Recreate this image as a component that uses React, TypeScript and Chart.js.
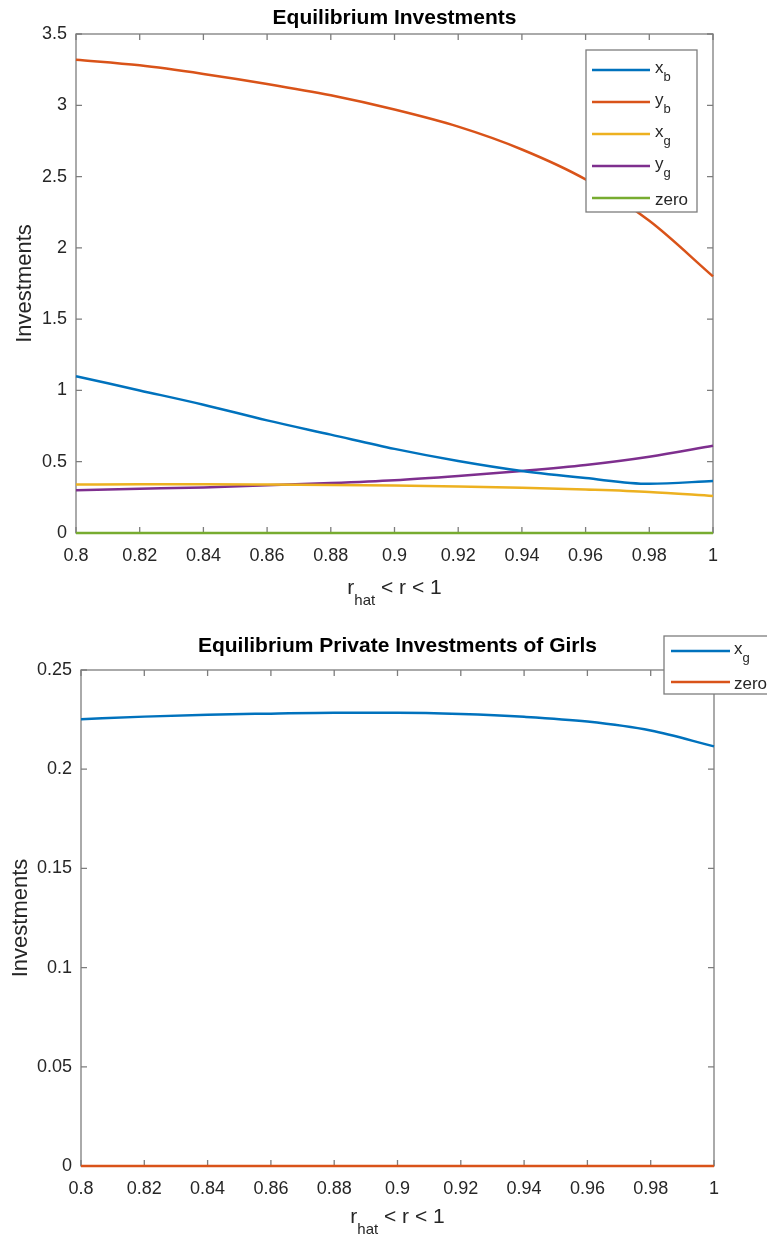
import React, { useEffect, useRef } from "react";
import { Chart, registerables } from "chart.js";

Chart.register(...registerables);

// ---------- data ----------
const R_VALUES = [0.8, 0.82, 0.84, 0.86, 0.88, 0.9, 0.92, 0.94, 0.96, 0.98, 1.0];
const X_TICKS = [0.8, 0.82, 0.84, 0.86, 0.88, 0.9, 0.92, 0.94, 0.96, 0.98, 1.0];
const TOP_Y_TICKS = [0, 0.5, 1, 1.5, 2, 2.5, 3, 3.5];
const BOTTOM_Y_TICKS = [0, 0.05, 0.1, 0.15, 0.2, 0.25];

const X_B = [1.1, 1.0, 0.9, 0.79, 0.69, 0.59, 0.505, 0.435, 0.385, 0.345, 0.365];
const Y_B = [3.32, 3.28, 3.22, 3.15, 3.07, 2.97, 2.85, 2.69, 2.48, 2.19, 1.8];
const X_G = [0.34, 0.342, 0.342, 0.34, 0.337, 0.333, 0.327, 0.318, 0.305, 0.288, 0.26];
const Y_G = [0.3, 0.31, 0.32, 0.335, 0.35, 0.37, 0.4, 0.435, 0.477, 0.535, 0.612];
const ZERO = [0, 0, 0, 0, 0, 0, 0, 0, 0, 0, 0];

const X_G_GIRLS = [0.2252, 0.2265, 0.2275, 0.228, 0.2284, 0.2284, 0.2278, 0.2264, 0.224, 0.2195, 0.2115];
const ZERO_GIRLS = [0, 0, 0, 0, 0, 0, 0, 0, 0, 0, 0];

const TOP_TITLE = "Equilibrium Investments";
const BOTTOM_TITLE = "Equilibrium Private Investments of Girls";
const Y_TITLE = "Investments";

// ---------- styles ----------
const BLUE = "#0072BD";
const ORANGE = "#D95319";
const YELLOW = "#EDB120";
const PURPLE = "#7E2F8E";
const GREEN = "#77AC30";
const AXIS = "#7d7d7d";
const TEXT = "#262626";
const FONT = "'Liberation Sans', Arial, Helvetica, sans-serif";
const LINE_W = 2.5;

type Part = { t: string; sub?: boolean };
type LegendRow = { parts: Part[]; color: string };

interface PanelCfg {
  width: number;
  height: number;
  area: { left: number; right: number; top: number; bottom: number };
  yMax: number;
  yTicks: number[];
  series: { label: string; values: number[]; color: string }[];
  title: string;
  titleBaseline: number;
  xTitleBaseline: number;
  yTitleX: number;
  legend: { left: number; top: number; right: number; bottom: number; lineX0: number; lineX1: number; textX: number; rowY: number[]; rows: LegendRow[] };
}

function fmt(v: number) {
  return String(Number(v.toFixed(3)));
}

function drawParts(ctx: CanvasRenderingContext2D, parts: Part[], x: number, baseline: number, align: "left" | "center", mainSize: number, subSize: number, subDrop: number) {
  const widths = parts.map((p) => {
    ctx.font = `${p.sub ? subSize : mainSize}px ${FONT}`;
    return ctx.measureText(p.t).width;
  });
  const total = widths.reduce((a, b) => a + b, 0);
  let cx = align === "center" ? x - total / 2 : x;
  ctx.textAlign = "left";
  ctx.textBaseline = "alphabetic";
  parts.forEach((p, i) => {
    ctx.font = `${p.sub ? subSize : mainSize}px ${FONT}`;
    const y = p.sub ? baseline + subDrop : baseline;
    ctx.fillText(p.t, cx, y);
    cx += widths[i];
  });
}

function makePlugin(cfg: PanelCfg) {
  return {
    id: "matlabFrame",
    beforeDatasetsDraw(chart: any) {
      const { ctx, chartArea: a, scales } = chart;
      ctx.save();
      ctx.strokeStyle = AXIS;
      ctx.lineWidth = 1.3;
      const tl = 6;
      ctx.beginPath();
      scales.x.ticks.forEach((t: any) => {
        const px = scales.x.getPixelForValue(t.value);
        ctx.moveTo(px, a.bottom);
        ctx.lineTo(px, a.bottom - tl);
        ctx.moveTo(px, a.top);
        ctx.lineTo(px, a.top + tl);
      });
      scales.y.ticks.forEach((t: any) => {
        const py = scales.y.getPixelForValue(t.value);
        ctx.moveTo(a.left, py);
        ctx.lineTo(a.left + tl, py);
        ctx.moveTo(a.right, py);
        ctx.lineTo(a.right - tl, py);
      });
      ctx.stroke();
      ctx.strokeRect(a.left, a.top, a.right - a.left, a.bottom - a.top);
      ctx.restore();
    },
    afterDraw(chart: any) {
      const { ctx, chartArea: a } = chart;
      ctx.save();
      ctx.fillStyle = "#000";
      // title
      ctx.font = `bold 21px ${FONT}`;
      ctx.textAlign = "center";
      ctx.textBaseline = "alphabetic";
      ctx.fillText(cfg.title, (a.left + a.right) / 2, cfg.titleBaseline);
      // x title
      ctx.fillStyle = TEXT;
      drawParts(ctx, [{ t: "r" }, { t: "hat", sub: true }, { t: " < r < 1" }], (a.left + a.right) / 2, cfg.xTitleBaseline, "center", 21, 15, 11);
      // y title
      ctx.save();
      ctx.translate(cfg.yTitleX, (a.top + a.bottom) / 2);
      ctx.rotate(-Math.PI / 2);
      ctx.font = `22px ${FONT}`;
      ctx.textAlign = "center";
      ctx.textBaseline = "alphabetic";
      ctx.fillText(Y_TITLE, 0, 0);
      ctx.restore();
      // legend
      const L = cfg.legend;
      ctx.fillStyle = "#ffffff";
      ctx.fillRect(L.left, L.top, L.right - L.left, L.bottom - L.top);
      ctx.strokeStyle = AXIS;
      ctx.lineWidth = 1.3;
      ctx.strokeRect(L.left, L.top, L.right - L.left, L.bottom - L.top);
      L.rows.forEach((row, i) => {
        const y = L.rowY[i];
        ctx.strokeStyle = row.color;
        ctx.lineWidth = LINE_W;
        ctx.beginPath();
        ctx.moveTo(L.lineX0, y);
        ctx.lineTo(L.lineX1, y);
        ctx.stroke();
        ctx.fillStyle = TEXT;
        const hasSub = row.parts.some((p) => p.sub);
        drawParts(ctx, row.parts, L.textX, y + (hasSub ? 3 : 7), "left", 17, 13, 8);
      });
      ctx.restore();
    },
  };
}

function buildChart(canvas: HTMLCanvasElement, cfg: PanelCfg) {
  const A = cfg.area;
  return new Chart(canvas, {
    type: "line",
    data: {
      datasets: cfg.series.map((s) => ({
        label: s.label,
        data: R_VALUES.map((r, i) => ({ x: r, y: s.values[i] })),
        borderColor: s.color,
        backgroundColor: s.color,
        borderWidth: LINE_W,
        pointRadius: 0,
        fill: false,
        cubicInterpolationMode: "monotone" as const,
        clip: 6,
      })),
    },
    options: {
      responsive: false,
      animation: false,
      devicePixelRatio: 1,
      layout: { padding: { left: 0, top: A.top, right: cfg.width - A.right, bottom: 0 } },
      plugins: { legend: { display: false }, title: { display: false }, tooltip: { enabled: false } },
      events: [],
      scales: {
        x: {
          type: "linear",
          min: 0.8,
          max: 1,
          grid: { display: false, drawTicks: false },
          border: { display: false },
          afterBuildTicks: (scale: any) => {
            scale.ticks = X_TICKS.map((v) => ({ value: v }));
          },
          afterFit: (scale: any) => {
            scale.height = cfg.height - A.bottom;
          },
          ticks: {
            autoSkip: false,
            maxRotation: 0,
            padding: 12,
            color: TEXT,
            font: { family: FONT, size: 18 },
            callback: (v: any) => fmt(Number(v)),
          },
        },
        y: {
          type: "linear",
          min: 0,
          max: cfg.yMax,
          grid: { display: false, drawTicks: false },
          border: { display: false },
          afterBuildTicks: (scale: any) => {
            scale.ticks = cfg.yTicks.map((v) => ({ value: v }));
          },
          afterFit: (scale: any) => {
            scale.width = A.left;
          },
          ticks: {
            autoSkip: false,
            padding: 9,
            color: TEXT,
            font: { family: FONT, size: 18 },
            callback: (v: any) => fmt(Number(v)),
          },
        },
      },
    },
    plugins: [makePlugin(cfg)],
  } as any);
}

const TOP_H = 615;
const BOT_H = 1239 - TOP_H;

const topCfg: PanelCfg = {
  width: 767,
  height: TOP_H,
  area: { left: 76, right: 713, top: 34, bottom: 533 },
  yMax: 3.5,
  yTicks: TOP_Y_TICKS,
  series: [
    { label: "x_b", values: X_B, color: BLUE },
    { label: "y_b", values: Y_B, color: ORANGE },
    { label: "x_g", values: X_G, color: YELLOW },
    { label: "y_g", values: Y_G, color: PURPLE },
    { label: "zero", values: ZERO, color: GREEN },
  ],
  title: TOP_TITLE,
  titleBaseline: 24,
  xTitleBaseline: 594,
  yTitleX: 31,
  legend: {
    left: 586,
    top: 50,
    right: 697,
    bottom: 212,
    lineX0: 592,
    lineX1: 650,
    textX: 655,
    rowY: [70, 102, 134, 166, 198],
    rows: [
      { parts: [{ t: "x" }, { t: "b", sub: true }], color: BLUE },
      { parts: [{ t: "y" }, { t: "b", sub: true }], color: ORANGE },
      { parts: [{ t: "x" }, { t: "g", sub: true }], color: YELLOW },
      { parts: [{ t: "y" }, { t: "g", sub: true }], color: PURPLE },
      { parts: [{ t: "zero" }], color: GREEN },
    ],
  },
};

const OFF = TOP_H;
const botCfg: PanelCfg = {
  width: 767,
  height: BOT_H,
  area: { left: 81, right: 714, top: 670 - OFF, bottom: 1166 - OFF },
  yMax: 0.25,
  yTicks: BOTTOM_Y_TICKS,
  series: [
    { label: "x_g", values: X_G_GIRLS, color: BLUE },
    { label: "zero", values: ZERO_GIRLS, color: ORANGE },
  ],
  title: BOTTOM_TITLE,
  titleBaseline: 652 - OFF,
  xTitleBaseline: 1223 - OFF,
  yTitleX: 27,
  legend: {
    left: 664,
    top: 636 - OFF,
    right: 800,
    bottom: 694 - OFF,
    lineX0: 671,
    lineX1: 730,
    textX: 734,
    rowY: [651 - OFF, 682 - OFF],
    rows: [
      { parts: [{ t: "x" }, { t: "g", sub: true }], color: BLUE },
      { parts: [{ t: "zero" }], color: ORANGE },
    ],
  },
};

export default function App() {
  const topRef = useRef<HTMLCanvasElement>(null);
  const botRef = useRef<HTMLCanvasElement>(null);
  useEffect(() => {
    const c1 = buildChart(topRef.current!, topCfg);
    const c2 = buildChart(botRef.current!, botCfg);
    return () => {
      c1.destroy();
      c2.destroy();
    };
  }, []);
  return (
    <div style={{ position: "absolute", left: 0, top: 0, width: 767, height: 1239, background: "#ffffff", overflow: "hidden" }}>
      <canvas ref={topRef} width={767} height={TOP_H} style={{ position: "absolute", left: 0, top: 0 }} />
      <canvas ref={botRef} width={767} height={BOT_H} style={{ position: "absolute", left: 0, top: TOP_H }} />
    </div>
  );
}
